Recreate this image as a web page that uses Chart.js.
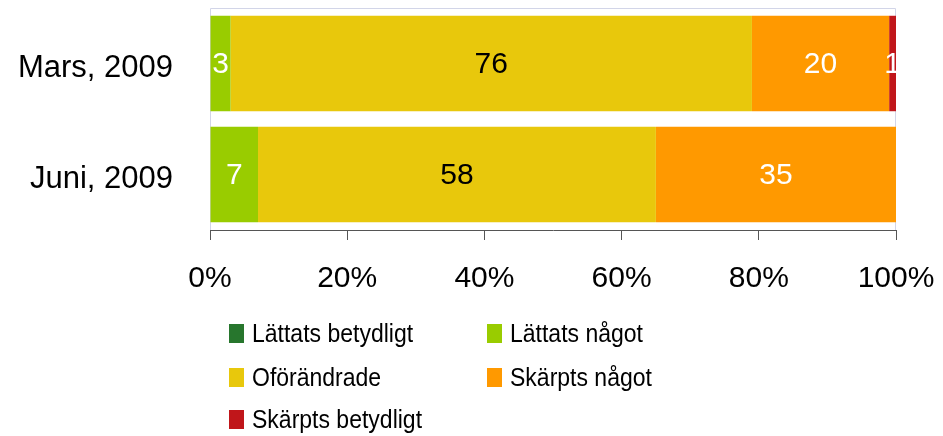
<!DOCTYPE html>
<html>
<head>
<meta charset="utf-8">
<script src="https://cdn.jsdelivr.net/npm/chart.js@4/dist/chart.umd.min.js"></script>
<style>
  body { margin: 0; background: #fff; }
  #wrap { position: relative; width: 943px; height: 436px; }
  #legend { position: absolute; left: 0; top: 0; font-family: 'Liberation Sans', Arial, sans-serif; }
  .legend-item { position: absolute; display: flex; align-items: center; white-space: nowrap; font-size: 25px; color: #000; height: 30px; }
  .legend-box { width: 15px; height: 19px; margin-right: 8px; flex: none; }
  .legend-text { display: inline-block; transform: scaleX(0.92); transform-origin: left center; }
</style>
</head>
<body>
<div id="wrap">
  <canvas id="chart" width="943" height="436"></canvas>
  <div id="legend"></div>
</div>
<script>
const categories = ['Mars, 2009', 'Juni, 2009']
const seriesNames = ['Lättats betydligt', 'Lättats något', 'Oförändrade', 'Skärpts något', 'Skärpts betydligt']
const lattatsBetydligt = [0, 0]
const lattatsNagot = [3, 7]
const oforandrade = [76, 58]
const skarptsNagot = [20, 35]
const skarptsBetydligt = [1, 0]
const seriesColors = ['#27762d', '#99cc00', '#e8c80c', '#ff9900', '#c0161a']
const labelColors = ['#fff', '#fff', '#000', '#fff', '#fff']

const seriesValues = [lattatsBetydligt, lattatsNagot, oforandrade, skarptsNagot, skarptsBetydligt]
const FONT = "'Liberation Sans', Arial, sans-serif"

// plot frame, light lines on top/left/right
const framePlugin = {
  id: 'frame',
  beforeDatasetsDraw (chart) {
    const { ctx, chartArea: a } = chart
    ctx.save()
    ctx.strokeStyle = '#d2d5e8'
    ctx.lineWidth = 1
    ctx.beginPath()
    ctx.moveTo(a.left + 0.5, a.bottom)
    ctx.lineTo(a.left + 0.5, a.top + 0.5)
    ctx.lineTo(a.right - 0.5, a.top + 0.5)
    ctx.lineTo(a.right - 0.5, a.bottom)
    ctx.stroke()
    ctx.restore()
  }
}

// value labels in the middle of each segment
const valueLabels = {
  id: 'valueLabels',
  afterDatasetsDraw (chart) {
    const ctx = chart.ctx
    ctx.save()
    ctx.font = '30px ' + FONT
    ctx.textAlign = 'center'
    ctx.textBaseline = 'middle'
    chart.data.datasets.forEach((ds, i) => {
      const meta = chart.getDatasetMeta(i)
      meta.data.forEach((bar, j) => {
        const v = ds.data[j]
        if (!v) return
        const p = bar.getCenterPoint()
        ctx.fillStyle = labelColors[i]
        ctx.fillText(String(v), p.x, p.y + 1)
      })
    })
    ctx.restore()
  }
}

const chart = new Chart(document.getElementById('chart'), {
  type: 'bar',
  data: {
    labels: categories,
    datasets: seriesNames.map((name, i) => ({
      label: name,
      data: seriesValues[i],
      backgroundColor: seriesColors[i],
      borderWidth: 0,
      categoryPercentage: 1,
      barPercentage: 0.86
    }))
  },
  options: {
    indexAxis: 'y',
    responsive: false,
    animation: false,
    layout: { padding: { top: 8, right: 47, left: 0, bottom: 0 } },
    plugins: {
      legend: { display: false },
      tooltip: { enabled: false }
    },
    scales: {
      x: {
        stacked: true,
        min: 0,
        max: 100,
        grid: { drawOnChartArea: false, drawTicks: true, tickLength: 10, color: '#555' },
        border: { color: '#555' },
        ticks: {
          stepSize: 20,
          padding: 21,
          color: '#000',
          font: { family: FONT, size: 30 },
          callback: v => v + '%'
        },
        afterFit (scale) {
          scale.height = 206
          scale.paddingLeft = 0
          scale.paddingRight = 0
        }
      },
      y: {
        stacked: true,
        grid: { display: false, drawTicks: false },
        border: { display: false },
        ticks: {
          padding: 37,
          labelOffset: 5,
          color: '#000',
          font: { family: FONT, size: 31 }
        },
        afterFit (scale) {
          scale.width = 210
          scale.paddingTop = 0
          scale.paddingBottom = 0
        }
      }
    }
  },
  plugins: [framePlugin, valueLabels]
})

// html legend, two columns like the original
const legendEl = document.getElementById('legend')
const items = Chart.defaults.plugins.legend.labels.generateLabels(chart)
const colLeft = [229, 487]
const rowMid = [333, 377, 419]
items.forEach((item, i) => {
  const div = document.createElement('div')
  div.className = 'legend-item'
  div.style.left = colLeft[i % 2] + 'px'
  div.style.top = (rowMid[Math.floor(i / 2)] - 15) + 'px'
  const box = document.createElement('span')
  box.className = 'legend-box'
  box.style.background = item.fillStyle
  const text = document.createElement('span')
  text.className = 'legend-text'
  text.textContent = item.text
  div.appendChild(box)
  div.appendChild(text)
  legendEl.appendChild(div)
})
</script>
</body>
</html>
